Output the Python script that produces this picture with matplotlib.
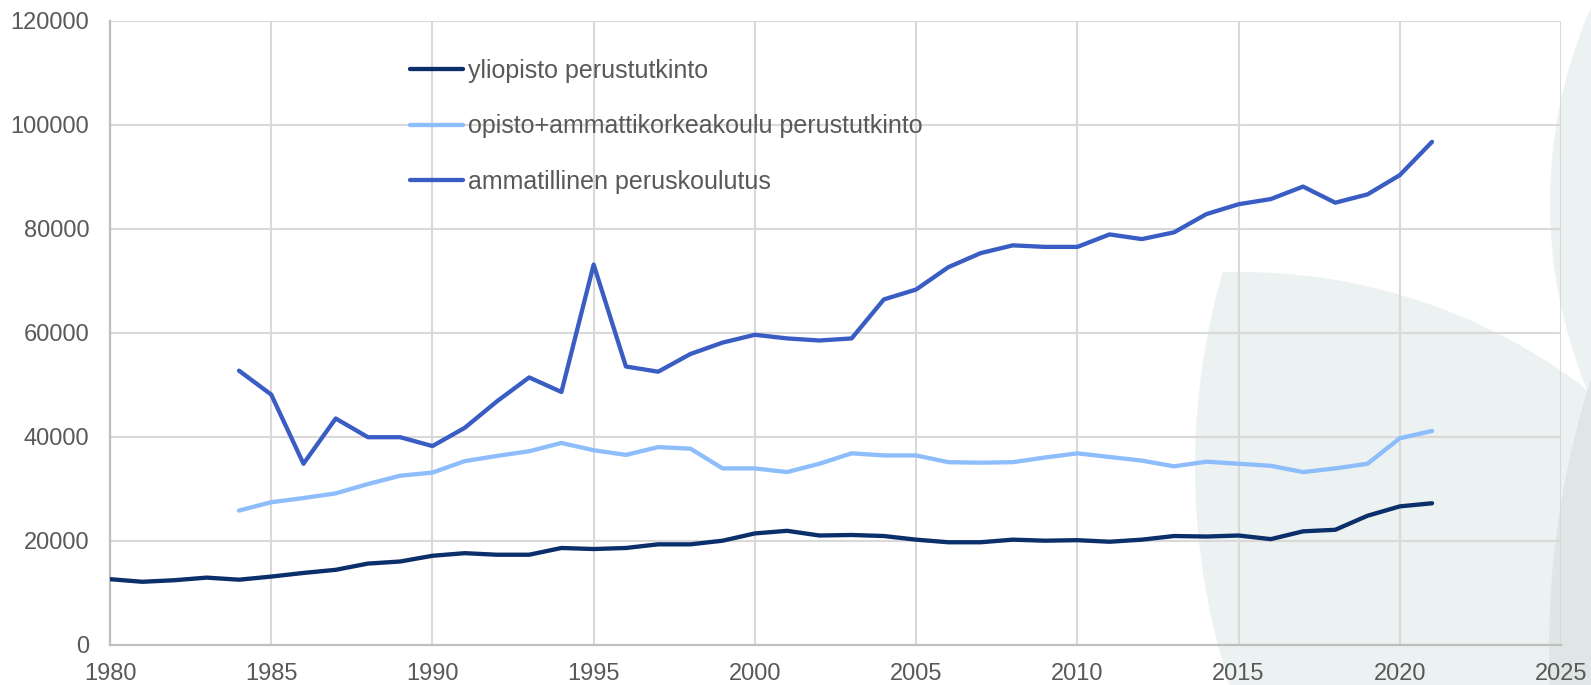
import matplotlib
matplotlib.use("Agg")
import matplotlib.pyplot as plt
from matplotlib.patches import Ellipse
import numpy as np

years_uni = list(range(1980, 2022))
yliopisto = [12600, 12100, 12400, 12900, 12500, 13100, 13800, 14400, 15600, 16000,
             17100, 17600, 17300, 17300, 18600, 18400, 18600, 19300, 19300, 20000,
             21400, 21900, 21000, 21100, 20900, 20200, 19700, 19700, 20200, 20000,
             20100, 19800, 20200, 20900, 20800, 21000, 20300, 21800, 22100, 24800,
             26600, 27200]

years_other = list(range(1984, 2022))
opisto_amk = [25800, 27400, 28200, 29100, 30900, 32500, 33100, 35300, 36300, 37200,
              38800, 37400, 36500, 38000, 37700, 33900, 33900, 33200, 34800, 36800,
              36400, 36400, 35100, 35000, 35100, 36000, 36800, 36100, 35400, 34300,
              35200, 34800, 34400, 33200, 33900, 34800, 39700, 41100]
ammatillinen = [52700, 48100, 34800, 43500, 39900, 39900, 38200, 41700, 46800, 51400,
                48600, 73100, 53500, 52500, 55900, 58100, 59600, 58900, 58500, 58900,
                66400, 68300, 72600, 75300, 76800, 76500, 76500, 78900, 78000, 79300,
                82800, 84700, 85700, 88100, 85000, 86600, 90300, 96700]

labels = ["yliopisto perustutkinto",
          "opisto+ammattikorkeakoulu perustutkinto",
          "ammatillinen peruskoulutus"]
colors = ["#0a2f6b", "#8dbdfb", "#3a5dc4"]

x_ticks = list(range(1980, 2026, 5))
y_ticks = list(range(0, 120001, 20000))

W, H = 1591, 685
fig = plt.figure(figsize=(W / 100, H / 100), dpi=100)
fig.patch.set_facecolor("white")
plt.rcParams['font.family'] = ['Liberation Sans', 'DejaVu Sans']

def circ(cx, cy, r, color, z=-5):
    # pixel coords (y down) -> figure fraction
    e = Ellipse((cx / W, 1 - cy / H), 2 * r / W, 2 * r / H,
                transform=fig.transFigure, facecolor=color, edgecolor="none", zorder=z)
    return e

# decorative background shapes
cl = circ(1895, 467, 700, "none")
ca = circ(1241, 840, 568, "#ecf2f1")
fig.patches.append(ca)
ca.set_clip_path(cl)
cb = circ(2038, 203, 488, "#ecf2f1")
fig.patches.append(cb)
cc = circ(2437, 649, 888, "#dfe7e6")
fig.patches.append(cc)

ax = fig.add_axes([110 / W, 1 - 644.7 / H, (1561 - 110) / W, (644.7 - 20.7) / H])
ax.set_facecolor("none")
ax.set_zorder(5)

ax.plot(years_uni, yliopisto, color=colors[0], lw=3.1, label=labels[0], zorder=3,
        solid_capstyle="round", solid_joinstyle="round")
ax.plot(years_other, opisto_amk, color=colors[1], lw=3.1, label=labels[1], zorder=3,
        solid_capstyle="round", solid_joinstyle="round")
ax.plot(years_other, ammatillinen, color=colors[2], lw=3.1, label=labels[2], zorder=3,
        solid_capstyle="round", solid_joinstyle="round")

ax.set_xlim(1980, 2025)
ax.set_ylim(0, 120000)
ax.set_xticks(x_ticks)
ax.set_yticks(y_ticks)
ax.set_xticklabels([str(t) for t in x_ticks])
ax.set_yticklabels([str(t) for t in y_ticks])
ax.grid(True, color="#d9d9d9", lw=1.5, zorder=1)
ax.set_axisbelow(True)
for s in ["top", "right"]:
    ax.spines[s].set_visible(False)
for s in ["left", "bottom"]:
    ax.spines[s].set_color("#bfbfbf")
    ax.spines[s].set_linewidth(1.6)
ax.tick_params(axis="both", length=0, labelsize=17, labelcolor="#595959")
ax.tick_params(axis="x", pad=13)
ax.tick_params(axis="y", pad=15)

leg = ax.legend(loc="upper left", bbox_to_anchor=(410 / W, 1 - 59 / H),
                bbox_transform=fig.transFigure, frameon=False, fontsize=18,
                handlelength=2.1, handletextpad=0.2, labelspacing=1.25,
                borderpad=0, borderaxespad=0)
for t in leg.get_texts():
    t.set_color("#595959")

fig.savefig("out.png", dpi=100, facecolor="white")
